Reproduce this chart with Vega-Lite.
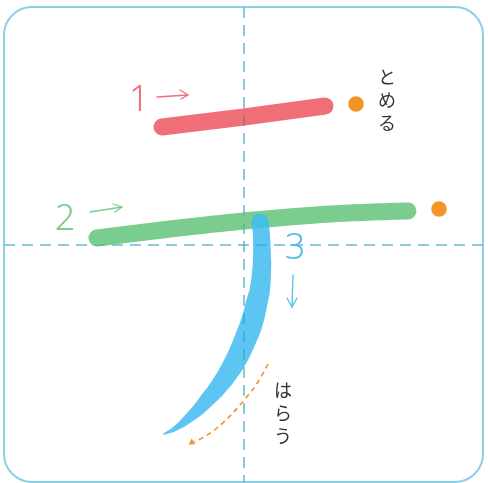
{
  "$schema": "https://vega.github.io/schema/vega-lite/v6.json",
  "width": 488,
  "height": 483,
  "padding": 0,
  "autosize": {"type": "fit", "contains": "padding"},
  "background": "white",
  "config": {"view": {"stroke": null}},
  "datasets": {
    "strokes": [
      {"stroke": "1", "i": 0, "x": 162, "y": 127},
      {"stroke": "1", "i": 1, "x": 244, "y": 117},
      {"stroke": "1", "i": 2, "x": 325, "y": 106},
      {"stroke": "2", "i": 0, "x": 97, "y": 238},
      {"stroke": "2", "i": 1, "x": 170, "y": 229},
      {"stroke": "2", "i": 2, "x": 244, "y": 221},
      {"stroke": "2", "i": 3, "x": 330, "y": 214},
      {"stroke": "2", "i": 4, "x": 408, "y": 211}
    ],
    "stroke3": [
      {"i": 0, "x": 260, "y": 222, "w": 17},
      {"i": 1, "x": 261.5, "y": 235, "w": 17},
      {"i": 2, "x": 262, "y": 250, "w": 17.5},
      {"i": 3, "x": 262, "y": 265, "w": 18.5},
      {"i": 4, "x": 261, "y": 280, "w": 19.5},
      {"i": 5, "x": 259.5, "y": 292, "w": 20.5},
      {"i": 6, "x": 257, "y": 302, "w": 21.5},
      {"i": 7, "x": 254, "y": 315, "w": 22},
      {"i": 8, "x": 251, "y": 325, "w": 22.5},
      {"i": 9, "x": 248, "y": 333, "w": 22.5},
      {"i": 10, "x": 243, "y": 345, "w": 22},
      {"i": 11, "x": 238.5, "y": 355, "w": 21.5},
      {"i": 12, "x": 232, "y": 367, "w": 20.5},
      {"i": 13, "x": 225, "y": 378, "w": 19},
      {"i": 14, "x": 216, "y": 390, "w": 17},
      {"i": 15, "x": 207, "y": 400, "w": 15},
      {"i": 16, "x": 199, "y": 409, "w": 12.5},
      {"i": 17, "x": 190, "y": 417, "w": 10},
      {"i": 18, "x": 182, "y": 424, "w": 7.5},
      {"i": 19, "x": 173, "y": 430, "w": 4.5},
      {"i": 20, "x": 164, "y": 434, "w": 1.5}
    ],
    "arrows": [
      {"id": "1s", "stroke": "1", "i": 0, "x": 157, "y": 97},
      {"id": "1s", "stroke": "1", "i": 1, "x": 188, "y": 95},
      {"id": "1h", "stroke": "1", "i": 0, "x": 180, "y": 90},
      {"id": "1h", "stroke": "1", "i": 1, "x": 188, "y": 95},
      {"id": "1h", "stroke": "1", "i": 2, "x": 181, "y": 99},
      {"id": "2s", "stroke": "2", "i": 0, "x": 90, "y": 212},
      {"id": "2s", "stroke": "2", "i": 1, "x": 122, "y": 207},
      {"id": "2h", "stroke": "2", "i": 0, "x": 113, "y": 204},
      {"id": "2h", "stroke": "2", "i": 1, "x": 122, "y": 207},
      {"id": "2h", "stroke": "2", "i": 2, "x": 115, "y": 212},
      {"id": "3s", "stroke": "3", "i": 0, "x": 293, "y": 275},
      {"id": "3s", "stroke": "3", "i": 1, "x": 292, "y": 307},
      {"id": "3h", "stroke": "3", "i": 0, "x": 287, "y": 298},
      {"id": "3h", "stroke": "3", "i": 1, "x": 292, "y": 307},
      {"id": "3h", "stroke": "3", "i": 2, "x": 297, "y": 298}
    ],
    "digits": [
      {"stroke": "1", "x": 139, "y": 100, "t": "1"},
      {"stroke": "2", "x": 65, "y": 219, "t": "2"},
      {"stroke": "3", "x": 295, "y": 248, "t": "3"}
    ],
    "kana": [
      {"x": 387, "y": 79, "t": ["と", "め", "る"]},
      {"x": 283, "y": 392, "t": ["は", "ら", "う"]}
    ],
    "dots": [
      {"x": 356, "y": 104},
      {"x": 439, "y": 209}
    ],
    "harai": [
      {"i": 0, "x": 268, "y": 364},
      {"i": 1, "x": 258, "y": 382},
      {"i": 2, "x": 245, "y": 399},
      {"i": 3, "x": 232, "y": 414},
      {"i": 4, "x": 217, "y": 428},
      {"i": 5, "x": 204, "y": 437},
      {"i": 6, "x": 194, "y": 442}
    ],
    "border": [{"x": 4, "x2": 483, "y": 7, "y2": 482}],
    "guides": [
      {"x": 244, "x2": 244, "y": 7, "y2": 482},
      {"x": 4, "x2": 483, "y": 245, "y2": 245}
    ]
  },
  "encoding": {
    "x": {"field": "x", "type": "quantitative", "axis": null, "scale": {"domain": [0, 488], "nice": false, "zero": false}},
    "y": {"field": "y", "type": "quantitative", "axis": null, "scale": {"domain": [0, 483], "nice": false, "zero": false, "reverse": true}}
  },
  "layer": [
    {
      "data": {"name": "border"},
      "mark": {"type": "rect", "filled": false, "stroke": "#8ccfe8", "strokeWidth": 2, "cornerRadius": 28},
      "encoding": {"x2": {"field": "x2"}, "y2": {"field": "y2"}}
    },
    {
      "data": {"name": "guides"},
      "mark": {"type": "rule", "stroke": "#86cce2", "strokeWidth": 1.5, "strokeDash": [11, 7]},
      "encoding": {"x2": {"field": "x2"}, "y2": {"field": "y2"}}
    },
    {
      "data": {"name": "strokes"},
      "mark": {"type": "line", "strokeWidth": 17, "strokeCap": "round", "strokeJoin": "round", "interpolate": "monotone"},
      "encoding": {
        "order": {"field": "i", "type": "quantitative"},
        "color": {"field": "stroke", "type": "nominal", "legend": null, "scale": {"domain": ["1", "2", "3"], "range": ["#f06e78", "#7acd8f", "#52bfe8"]}}
      }
    },
    {
      "data": {"name": "stroke3"},
      "mark": {"type": "trail", "color": "#40bbf0", "opacity": 0.85},
      "encoding": {
        "order": {"field": "i", "type": "quantitative"},
        "size": {"field": "w", "type": "quantitative", "scale": null}
      }
    },
    {
      "data": {"name": "guides"},
      "mark": {"type": "rule", "stroke": "#86cce2", "strokeWidth": 1.2, "strokeDash": [11, 7], "blend": "multiply", "opacity": 0.6},
      "encoding": {"x2": {"field": "x2"}, "y2": {"field": "y2"}}
    },
    {
      "data": {"name": "dots"},
      "mark": {"type": "point", "filled": true, "shape": "circle", "size": 240, "color": "#f39427", "opacity": 1}
    },
    {
      "data": {"name": "harai"},
      "mark": {"type": "line", "strokeWidth": 1.6, "strokeDash": [5, 4], "color": "#f0932c", "interpolate": "monotone"},
      "encoding": {"order": {"field": "i", "type": "quantitative"}}
    },
    {
      "data": {"values": [{"x": 191, "y": 443}]},
      "mark": {"type": "point", "filled": true, "shape": "triangle-up", "size": 45, "angle": 238, "color": "#f0932c", "opacity": 1}
    },
    {
      "data": {"name": "arrows"},
      "mark": {"type": "line", "strokeWidth": 1.3, "strokeCap": "round", "strokeJoin": "round"},
      "encoding": {
        "order": {"field": "i", "type": "quantitative"},
        "detail": {"field": "id", "type": "nominal"},
        "color": {"field": "stroke", "type": "nominal", "legend": null}
      }
    },
    {
      "data": {"name": "digits"},
      "mark": {"type": "text", "font": "Noto Sans", "fontSize": 36, "fontWeight": 300, "align": "center", "baseline": "middle"},
      "encoding": {
        "text": {"field": "t"},
        "color": {"field": "stroke", "type": "nominal", "legend": null}
      }
    },
    {
      "data": {"name": "kana"},
      "mark": {"type": "text", "font": "Noto Sans CJK JP", "fontSize": 18, "lineHeight": 23, "align": "center", "baseline": "middle", "color": "#333333"},
      "encoding": {"text": {"field": "t"}}
    }
  ]
}
